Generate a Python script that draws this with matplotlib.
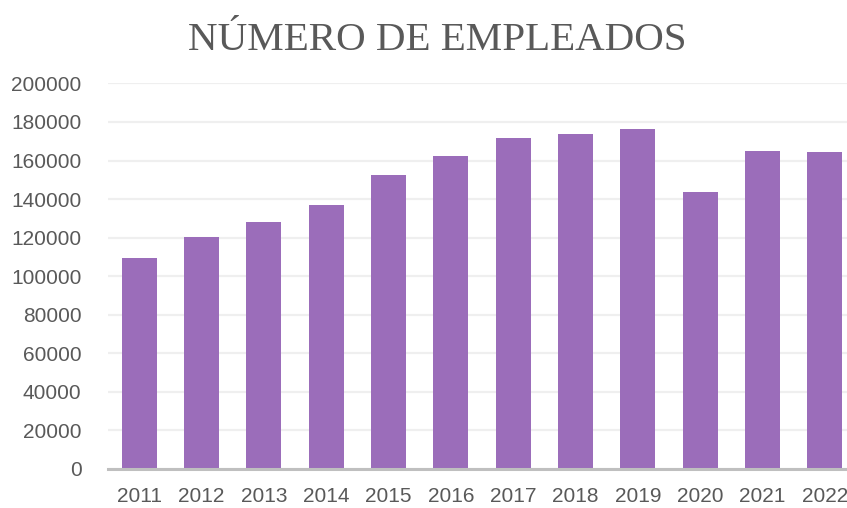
import matplotlib.pyplot as plt

years = ['2011', '2012', '2013', '2014', '2015', '2016',
         '2017', '2018', '2019', '2020', '2021', '2022']
empleados = [109400, 120300, 128100, 136900, 152500, 162300,
             171700, 173800, 176300, 143700, 164900, 164400]
yticks = [0, 20000, 40000, 60000, 80000, 100000,
          120000, 140000, 160000, 180000, 200000]

fig = plt.figure(figsize=(8.47, 5.08), dpi=100)
# the plot area runs a little past the right edge, as in the original
ax = fig.add_axes([108 / 847, 39 / 508, 748 / 847, 385.6 / 508])

x = range(len(years))
ax.bar(x, empleados, width=0.56, color='#9b6dba', zorder=3)

ax.set_xlim(-0.5, len(years) - 0.5)
ax.set_ylim(0, 200000)
ax.set_yticks(yticks)
ax.set_yticklabels([str(v) for v in yticks])
ax.set_xticks(list(x))
ax.set_xticklabels(years)

ax.grid(axis='y', color='#efefef', linewidth=1.6, zorder=0)
for s in ['top', 'right', 'left']:
    ax.spines[s].set_visible(False)
ax.spines['bottom'].set_color('#bfbfbf')
ax.spines['bottom'].set_linewidth(2.2)
ax.spines['bottom'].set_zorder(4)

ax.tick_params(axis='y', length=0, pad=19, labelsize=15, labelcolor='#595959')
ax.tick_params(axis='x', length=0, pad=13, labelsize=15, labelcolor='#595959')
for lab in ax.get_xticklabels() + ax.get_yticklabels():
    lab.set_fontfamily('Liberation Sans')

fig.text(437 / 847, 1 - 40 / 508, 'N\u00daMERO DE EMPLEADOS', ha='center', va='center',
         fontsize=29.5, color='#595959', family='Liberation Serif')

plt.savefig('out.png', dpi=100)
